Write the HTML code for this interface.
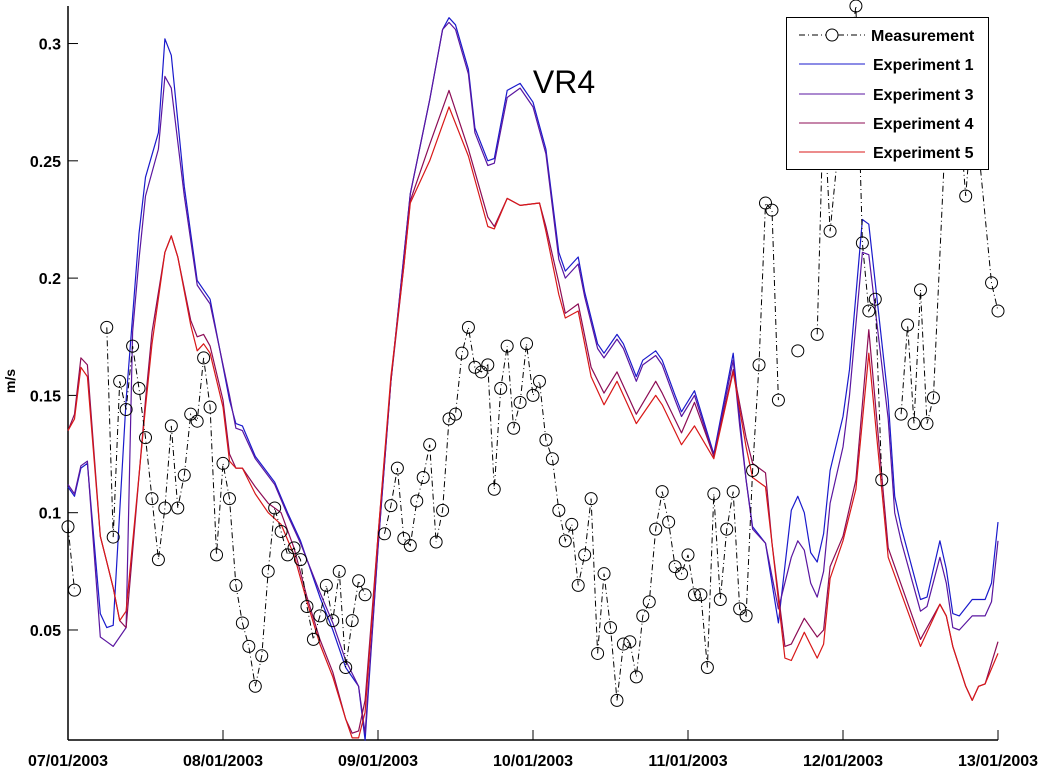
<!DOCTYPE html>
<html><head><meta charset="utf-8"><style>
body{margin:0;background:#fff;}
svg{display:block;font-family:"Liberation Sans",Arial,sans-serif;}
</style></head><body>
<svg id="chart" width="1042" height="769" viewBox="0 0 1042 769"></svg>
<script>
const xTickLabels=["07/01/2003","08/01/2003","09/01/2003","10/01/2003","11/01/2003","12/01/2003","13/01/2003"];
const yTickValues=[0.05,0.1,0.15,0.2,0.25,0.3];
const yTickLabels=["0.05","0.1","0.15","0.2","0.25","0.3"];
const measHours=[0,1,6,7,8,9,10,11,12,13,14,15,16,17,18,19,20,21,22,23,24,25,26,27,28,29,30,31,32,33,34,35,36,37,38,39,40,41,42,43,44,45,46,49,50,51,52,53,54,55,56,57,58,59,60,61,62,63,64,65,66,67,68,69,70,71,72,73,74,75,76,77,78,79,80,81,82,83,84,85,86,87,88,89,90,91,92,93,94,95,96,97,98,99,100,101,102,103,104,105,106,107,108,109,110,113,116,117,118,120,122,123,124,125,126,129,130,131,132,133,134,136,138,139,140,141,143,144];
const measValues=[0.094,0.067,0.179,0.0896,0.156,0.144,0.171,0.153,0.132,0.106,0.080,0.102,0.137,0.102,0.116,0.142,0.139,0.166,0.145,0.082,0.121,0.106,0.069,0.053,0.043,0.026,0.039,0.075,0.102,0.092,0.082,0.085,0.080,0.060,0.046,0.056,0.069,0.054,0.075,0.034,0.054,0.071,0.065,0.091,0.103,0.119,0.089,0.086,0.105,0.115,0.129,0.0875,0.101,0.140,0.142,0.168,0.179,0.162,0.160,0.163,0.110,0.153,0.171,0.136,0.147,0.172,0.150,0.156,0.131,0.123,0.101,0.088,0.095,0.069,0.082,0.106,0.040,0.074,0.051,0.020,0.044,0.045,0.030,0.056,0.062,0.093,0.109,0.096,0.077,0.074,0.082,0.065,0.065,0.034,0.108,0.063,0.093,0.109,0.059,0.056,0.118,0.163,0.232,0.229,0.148,0.169,0.176,0.276,0.220,0.276,0.316,0.215,0.186,0.191,0.114,0.142,0.180,0.138,0.195,0.138,0.149,0.27,0.27,0.235,0.27,0.255,0.198,0.186];
const exp1Hours=[0,1,2,3,5,6,7,9,11,12,14,15,16,18,20,21,22,25,26,27,29,32,34,36,39,41,43,45,46,48,50,53,56,58,59,60,62,63,65,66,68,70,72,74,76,77,79,80,82,83,85,86,88,89,91,92,94,95,97,100,103,104,105,106,108,110,112,113,114,115,116,117,118,120,121,123,124,127,128,129,132,133,135,136,137,138,140,142,143,144];
const exp1Values=[0.111,0.107,0.119,0.121,0.057,0.051,0.052,0.148,0.219,0.243,0.262,0.302,0.295,0.239,0.199,0.195,0.191,0.148,0.138,0.137,0.124,0.113,0.100,0.088,0.064,0.050,0.034,0.026,0.003,0.085,0.156,0.236,0.276,0.306,0.311,0.308,0.289,0.264,0.250,0.251,0.280,0.283,0.275,0.255,0.211,0.203,0.209,0.194,0.172,0.168,0.176,0.172,0.158,0.165,0.169,0.165,0.150,0.143,0.152,0.125,0.168,0.140,0.114,0.094,0.087,0.053,0.101,0.107,0.100,0.083,0.079,0.091,0.118,0.141,0.161,0.225,0.223,0.148,0.107,0.094,0.063,0.064,0.088,0.076,0.057,0.056,0.063,0.063,0.070,0.096];
const exp3Hours=[0,1,2,3,5,6,7,9,10,11,12,14,15,16,18,20,21,22,25,26,27,29,32,34,36,39,41,43,45,46,48,50,53,56,58,59,60,62,63,65,66,68,70,72,74,76,77,79,80,82,83,85,86,88,89,91,92,94,95,97,100,103,104,105,106,108,110,112,113,114,115,116,117,118,120,121,123,124,127,128,129,132,133,135,136,137,138,140,142,143,144];
const exp3Values=[0.112,0.108,0.120,0.122,0.047,0.045,0.043,0.051,0.177,0.208,0.235,0.255,0.286,0.281,0.235,0.197,0.193,0.189,0.150,0.136,0.135,0.123,0.112,0.099,0.087,0.066,0.053,0.037,0.026,0.006,0.085,0.156,0.236,0.276,0.306,0.309,0.306,0.287,0.262,0.248,0.249,0.277,0.281,0.273,0.253,0.208,0.200,0.206,0.192,0.170,0.166,0.174,0.170,0.156,0.163,0.167,0.163,0.148,0.141,0.150,0.124,0.165,0.137,0.114,0.093,0.087,0.059,0.081,0.088,0.084,0.070,0.064,0.075,0.104,0.128,0.150,0.211,0.210,0.140,0.100,0.088,0.058,0.060,0.081,0.070,0.051,0.050,0.056,0.056,0.062,0.088];
const exp4Hours=[0,1,2,3,5,6,7,8,9,12,13,15,16,17,19,20,21,22,24,25,26,27,29,31,33,35,37,39,41,43,44,45,46,48,50,52,53,56,59,62,65,66,68,70,73,74,76,77,79,81,83,85,88,91,92,95,97,100,103,105,106,108,109,111,112,114,116,117,118,120,122,124,127,132,135,136,137,139,140,141,142,144];
const exp4Values=[0.135,0.142,0.166,0.163,0.090,0.079,0.068,0.054,0.051,0.148,0.177,0.211,0.218,0.209,0.182,0.175,0.176,0.171,0.148,0.125,0.119,0.119,0.111,0.104,0.100,0.085,0.064,0.046,0.032,0.012,0.006,0.007,0.020,0.090,0.156,0.205,0.233,0.257,0.280,0.255,0.226,0.222,0.234,0.231,0.232,0.222,0.198,0.185,0.189,0.162,0.151,0.160,0.142,0.156,0.151,0.134,0.147,0.124,0.161,0.132,0.121,0.117,0.087,0.043,0.044,0.055,0.047,0.050,0.077,0.090,0.114,0.178,0.085,0.046,0.061,0.056,0.043,0.026,0.020,0.026,0.027,0.045];
const exp5Hours=[0,1,2,3,5,6,7,8,9,12,13,15,16,17,19,20,21,22,24,25,26,27,29,31,33,35,37,39,41,43,44,45,46,48,50,52,53,56,59,62,65,66,68,70,73,74,76,77,79,81,83,85,88,91,92,95,97,100,103,105,106,108,109,111,112,114,116,117,118,120,122,124,127,132,135,136,137,139,140,141,142,144];
const exp5Values=[0.135,0.140,0.162,0.158,0.090,0.079,0.068,0.054,0.058,0.145,0.172,0.211,0.218,0.209,0.180,0.169,0.172,0.168,0.145,0.122,0.119,0.119,0.108,0.100,0.095,0.082,0.062,0.044,0.030,0.012,0.004,0.004,0.015,0.090,0.158,0.205,0.232,0.250,0.273,0.252,0.222,0.221,0.234,0.231,0.232,0.220,0.193,0.183,0.186,0.158,0.146,0.156,0.138,0.150,0.146,0.129,0.137,0.123,0.160,0.128,0.115,0.111,0.087,0.038,0.037,0.049,0.038,0.044,0.072,0.088,0.110,0.168,0.081,0.043,0.061,0.056,0.043,0.026,0.020,0.026,0.027,0.040];

const NS="http://www.w3.org/2000/svg";
const svg=document.getElementById('chart');
const X0=68,X1=998,YB=740,YT=6;
const yMin=0.0031,yMax=0.316;
function xs(h){return X0+(h/144)*(X1-X0);}
function ys(v){return YB-(v-yMin)/(yMax-yMin)*(YB-YT);}
function mk(tag,attrs,parent){const e=document.createElementNS(NS,tag);for(const k in attrs)e.setAttribute(k,attrs[k]);(parent||svg).appendChild(e);return e;}

const axes=mk('g',{});


const yAxis=mk('line',{x1:X0,y1:YT,x2:X0,y2:YB,stroke:'#000','stroke-width':1.5},axes);


const xAxis=mk('line',{x1:X0,y1:YB,x2:X1,y2:YB,stroke:'#000','stroke-width':1.5},axes);



yTickValues.forEach((v,i)=>{
  const y=ys(v);
  const t=mk('line',{x1:X0,y1:y,x2:X0+10,y2:y,stroke:'#000','stroke-width':1},axes);
  
  
  const l=mk('text',{x:X0-7,y:y+6,'text-anchor':'end','font-size':16,'font-weight':'bold',fill:'#000'},axes);
  l.textContent=yTickLabels[i];
  
  
});
xTickLabels.forEach((s,i)=>{
  const x=xs(i*24);
  const t=mk('line',{x1:x,y1:YB,x2:x,y2:YB-10,stroke:'#000','stroke-width':1},axes);
  
  
  const l=mk('text',{x:x,y:766,'text-anchor':'middle','font-size':16,'font-weight':'bold',fill:'#000'},axes);
  l.textContent=s;
  
  
});
const yl=mk('text',{x:0,y:0,'text-anchor':'middle','font-size':14,'font-weight':'bold',fill:'#000',transform:'translate(15,381) rotate(-90)'});
yl.textContent='m/s';



function drawLine(hours,vals,color,name){
  const p=hours.map((h,i)=>xs(h).toFixed(1)+','+ys(vals[i]).toFixed(1)).join(' ');
  const e=mk('polyline',{points:p,fill:'none',stroke:color,'stroke-width':1.2,'stroke-linejoin':'round'});
  
  
}
drawLine(exp1Hours,exp1Values,'#1a1acc','experiment-1-line');
drawLine(exp3Hours,exp3Values,'#5a16a0','experiment-3-line');
drawLine(exp4Hours,exp4Values,'#8c0c55','experiment-4-line');
drawLine(exp5Hours,exp5Values,'#d81818','experiment-5-line');

// measurement line, broken where there are data gaps (>2 h)
let segs=[[]];
measHours.forEach((h,i)=>{
  if(i>0 && h-measHours[i-1]>2) segs.push([]);
  segs[segs.length-1].push(xs(h).toFixed(1)+','+ys(measValues[i]).toFixed(1));
});
segs.forEach(s=>{
  const ml=mk('polyline',{points:s.join(' '),fill:'none',stroke:'#000','stroke-width':1,'stroke-dasharray':'6 3 1 3'});
  
  
});
measHours.forEach((h,i)=>{
  const c=mk('circle',{cx:xs(h),cy:ys(measValues[i]),r:6,fill:'none',stroke:'#000','stroke-width':1});
  
  
});

const title=mk('text',{x:564,y:93,'text-anchor':'middle','font-size':32,fill:'#000'});
title.textContent='VR4';



const lg=mk('g',{});


mk('rect',{x:786.5,y:17.5,width:202,height:152,fill:'#fff',stroke:'#000','stroke-width':1},lg);
const legNames=['Measurement','Experiment 1','Experiment 3','Experiment 4','Experiment 5'];
const legColors=['#000','#1a1acc','#5a16a0','#8c0c55','#d81818'];
const legY=[38,67,97,126,155];
legNames.forEach((n,i)=>{
  const g=mk('g',{},lg);
  
  
  const ln=mk('line',{x1:799,y1:legY[i]-3,x2:865,y2:legY[i]-3,stroke:legColors[i],'stroke-width':1},g);
  if(i===0){ln.setAttribute('stroke-dasharray','6 3 1 3');mk('circle',{cx:832,cy:legY[i]-3,r:6,fill:'#fff',stroke:'#000'},g);}
  const t=mk('text',{x:i===0?871:873,y:legY[i]+3,'font-size':16,'font-weight':'bold',fill:'#000'},g);
  t.textContent=n;
});
</script>
</body></html>
